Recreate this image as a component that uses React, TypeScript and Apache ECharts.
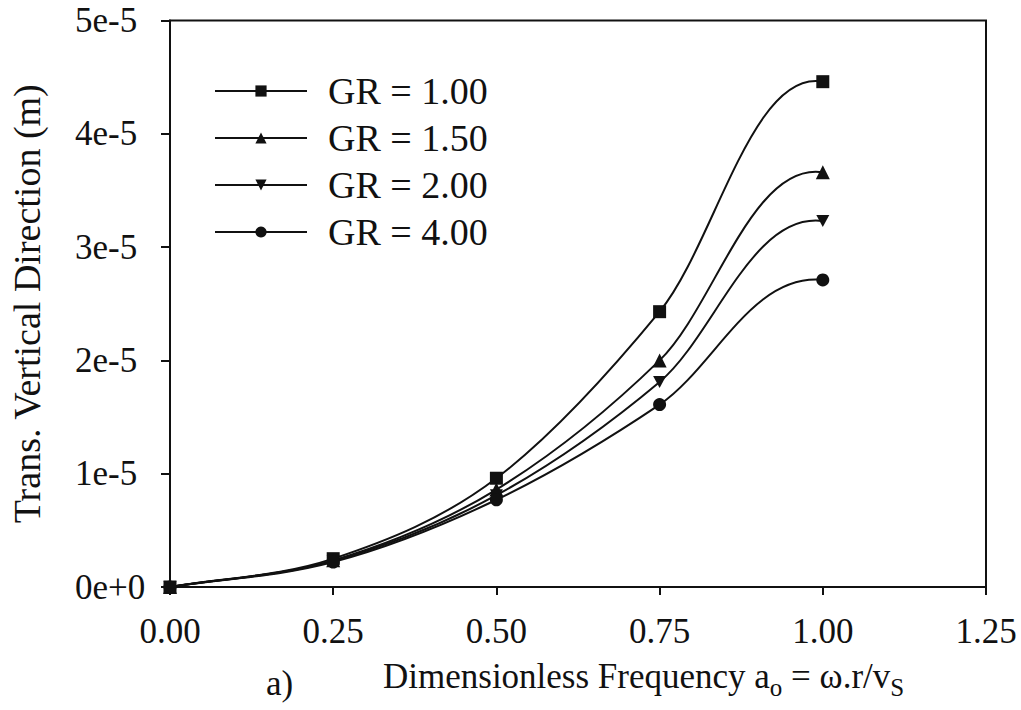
import React, { useEffect, useRef } from "react";
import * as echarts from "echarts";

const xValues = [0, 0.25, 0.5, 0.75, 1.0];
const gr100 = [0, 2.5e-6, 9.6e-6, 2.43e-5, 4.46e-5];
const gr150 = [0, 2.35e-6, 8.6e-6, 2.0e-5, 3.66e-5];
const gr200 = [0, 2.3e-6, 8.1e-6, 1.81e-5, 3.23e-5];
const gr400 = [0, 2.2e-6, 7.7e-6, 1.61e-5, 2.71e-5];
const seriesNames = ["GR = 1.00", "GR = 1.50", "GR = 2.00", "GR = 4.00"];
const seriesSymbols = ["rect", "triangle", "path://M0,0 L10,0 L5,9 Z", "circle"];

const FONT = "'Liberation Serif', 'Times New Roman', serif";

function makeCurveRenderer(d: number[]) {
  return (params: any, api: any) => {
    const i = params.dataIndex;
    const n = d.length;
    if (i >= n - 1) return { type: "group", children: [] };
    const P = d.map((y, k) => api.coord([xValues[k], y]));
    const tangent = (k: number) => {
      if (k === 0) return [P[1][0] - P[0][0], P[1][1] - P[0][1]];
      if (k === n - 1) {
        const dx = P[n - 1][0] - P[n - 2][0];
        const dy = P[n - 1][1] - P[n - 2][1];
        return [dx * 1.3, -dy * 0.17];
      }
      return [(P[k + 1][0] - P[k - 1][0]) / 2, (P[k + 1][1] - P[k - 1][1]) / 2];
    };
    const t0 = tangent(i);
    const t1 = tangent(i + 1);
    return {
      type: "bezierCurve",
      shape: {
        x1: P[i][0],
        y1: P[i][1],
        cpx1: P[i][0] + t0[0] / 3,
        cpy1: P[i][1] + t0[1] / 3,
        cpx2: P[i + 1][0] - t1[0] / 3,
        cpy2: P[i + 1][1] - t1[1] / 3,
        x2: P[i + 1][0],
        y2: P[i + 1][1],
      },
      style: { stroke: "#111", lineWidth: 2, fill: null },
      silent: true,
    };
  };
}

export default function App() {
  const ref = useRef<HTMLDivElement>(null);
  useEffect(() => {
    if (!ref.current) return;
    const chart = echarts.init(ref.current, null, { renderer: "svg" });
    const datasets = [gr100, gr150, gr200, gr400];
    const sizes = [13, 14, 13, 13];
    const curveSeries = datasets.map((d, i) => ({
      name: "curve" + i,
      type: "custom",
      renderItem: makeCurveRenderer(d),
      data: d.map((y, j) => [xValues[j], y]),
      silent: true,
      z: 1,
    }));
    const markerSeries = datasets.map((d, i) => ({
      name: seriesNames[i],
      type: "line",
      data: d.map((y, j) => [xValues[j], y]),
      symbol: seriesSymbols[i],
      symbolSize: i === 2 ? [13, 12] : sizes[i],
      lineStyle: { color: "#111", width: 0, opacity: 0 },
      itemStyle: { color: "#111" },
      z: 3,
    }));
    const option: any = {
      animation: false,
      backgroundColor: "#ffffff",
      textStyle: { fontFamily: FONT, color: "#111" },
      grid: {
        left: 166,
        right: 35,
        top: 20.5,
        bottom: 123,
        show: true,
        borderColor: "#111",
        borderWidth: 2,
      },
      legend: {
        orient: "vertical",
        left: 209,
        top: 66,
        itemWidth: 92,
        itemHeight: 14,
        itemGap: 7,
        data: seriesNames,
        lineStyle: { color: "#111", width: 2, opacity: 1 },
        textStyle: {
          fontFamily: FONT,
          fontSize: 38,
          color: "#111",
          lineHeight: 40,
          padding: [0, 0, 0, 16],
        },
      },
      xAxis: {
        type: "value",
        min: 0,
        max: 1.25,
        interval: 0.25,
        axisLine: { show: true, lineStyle: { color: "#111", width: 2 } },
        axisTick: { show: true, inside: false, length: 8, lineStyle: { color: "#111", width: 2 } },
        splitLine: { show: false },
        axisLabel: {
          fontFamily: FONT,
          fontSize: 35,
          color: "#111",
          margin: 27,
          formatter: (v: number) => v.toFixed(2),
        },
      },
      yAxis: {
        type: "value",
        min: 0,
        max: 5e-5,
        interval: 1e-5,
        name: "Trans. Vertical Direction (m)",
        nameLocation: "middle",
        nameGap: 124,
        nameTextStyle: { fontFamily: FONT, fontSize: 38, color: "#111" },
        axisLine: { show: true, lineStyle: { color: "#111", width: 2 } },
        axisTick: { show: true, inside: false, length: 9, lineStyle: { color: "#111", width: 2 } },
        splitLine: { show: false },
        axisLabel: {
          fontFamily: FONT,
          fontSize: 35,
          color: "#111",
          margin: 95,
          align: "left",
          formatter: (v: number) => {
            const k = Math.round(v * 1e5);
            return k === 0 ? "0e+0" : `${k}e-5`;
          },
        },
      },
      series: [...curveSeries, ...markerSeries],
      graphic: [
        {
          type: "text",
          left: 266,
          top: 666,
          style: { text: "a)", font: `35px ${FONT}`, fill: "#111" },
        },
        {
          type: "text",
          left: 383,
          top: 659,
          style: {
            text: "{m|Dimensionless Frequency a}{s|o}{m| = ω.r/v}{s|S}",
            fill: "#111",
            rich: {
              m: { fontFamily: FONT, fontSize: 35, lineHeight: 42, verticalAlign: "bottom", padding: [0, 0, 6, 0] },
              s: { fontFamily: FONT, fontSize: 25, lineHeight: 28, verticalAlign: "bottom", padding: [0, 0, 0, 0] },
            },
          },
        },
      ],
    };
    chart.setOption(option);
    return () => chart.dispose();
  }, []);
  return (
    <div
      ref={ref}
      style={{ position: "fixed", left: 0, top: 0, width: 1021, height: 710 }}
    />
  );
}
